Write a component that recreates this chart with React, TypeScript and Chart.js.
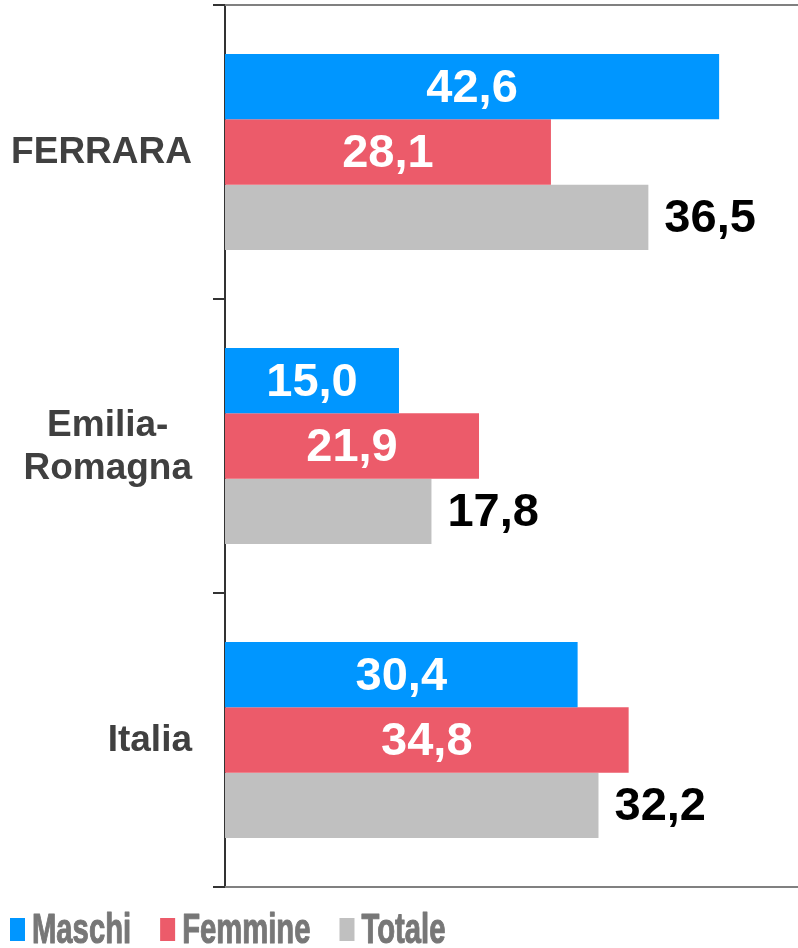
import React, { useEffect, useRef } from "react";
import { Chart, registerables } from "chart.js";

Chart.register(...registerables);

const categories: (string | string[])[] = ["FERRARA", ["Emilia-", "Romagna"], "Italia"];
const seriesNames = ["Maschi", "Femmine", "Totale"];
const maschi = [42.6, 15.0, 30.4];
const femmine = [28.1, 21.9, 34.8];
const totale = [36.5, 17.8, 32.2];
const colors = ["#0096FF", "#EC5B6A", "#C0C0C0"];
const xMax = 49.4;

const fmt = (v: number) => v.toFixed(1).replace(".", ",");

const overlay = {
  id: "overlay",
  afterDraw(chart: any) {
    const ctx = chart.ctx as CanvasRenderingContext2D;
    const area = chart.chartArea;
    ctx.save();
    ctx.strokeStyle = "#808080";
    ctx.lineWidth = 2;
    ctx.beginPath();
    ctx.moveTo(area.left, area.top);
    ctx.lineTo(area.right, area.top);
    ctx.moveTo(area.left, area.bottom);
    ctx.lineTo(area.right, area.bottom);
    ctx.stroke();

    // value labels
    ctx.font = "bold 47px 'Liberation Sans', Arial, sans-serif";
    ctx.textBaseline = "middle";
    chart.data.datasets.forEach((ds: any, di: number) => {
      const meta = chart.getDatasetMeta(di);
      meta.data.forEach((bar: any, i: number) => {
        const text = fmt(ds.data[i]);
        if (di < 2) {
          ctx.fillStyle = "#ffffff";
          ctx.textAlign = "center";
          ctx.fillText(text, (bar.base + bar.x) / 2, bar.y + 2);
        } else {
          ctx.fillStyle = "#000000";
          ctx.textAlign = "left";
          ctx.fillText(text, bar.x + 16, bar.y + 2);
        }
      });
    });

    // category labels
    const yScale = chart.scales.y;
    ctx.font = "bold 37px 'Liberation Sans', Arial, sans-serif";
    ctx.fillStyle = "#404040";
    ctx.textAlign = "center";
    categories.forEach((lab, i) => {
      const lines = Array.isArray(lab) ? lab : [lab];
      const w = Math.max(...lines.map((l) => ctx.measureText(l).width));
      const right = area.left - 33;
      const cx = right - w / 2;
      const lh = 43;
      const cy = yScale.getPixelForValue(i);
      lines.forEach((l, k) => ctx.fillText(l, cx, cy + 1 + (k - (lines.length - 1) / 2) * lh));
    });

    // legend (condensed bold text)
    const squeeze = 0.68;
    ctx.font = "bold 43px 'Liberation Sans', Arial, sans-serif";
    ctx.textAlign = "left";
    ctx.textBaseline = "alphabetic";
    let x = 10;
    const baseline = 943;
    seriesNames.forEach((name, i) => {
      ctx.fillStyle = colors[i];
      ctx.fillRect(x, 918, 15, 23);
      x += 15 + 7;
      const tw = ctx.measureText(name).width * squeeze;
      ctx.save();
      ctx.translate(x, baseline);
      ctx.scale(squeeze, 1);
      ctx.fillStyle = "#777777";
      ctx.strokeStyle = "#777777";
      ctx.lineWidth = 1.1;
      ctx.lineJoin = "round";
      ctx.strokeText(name, 0, 0);
      ctx.fillText(name, 0, 0);
      ctx.restore();
      x += tw + 29;
    });
    ctx.restore();
  },
};

export default function App() {
  const ref = useRef<HTMLCanvasElement | null>(null);
  useEffect(() => {
    if (!ref.current) return;
    const data = [maschi, femmine, totale];
    const chart = new Chart(ref.current, {
      type: "bar",
      data: {
        labels: categories.map((c) => (Array.isArray(c) ? c.join(" ") : c)),
        datasets: seriesNames.map((name, i) => ({
          label: name,
          data: data[i],
          backgroundColor: colors[i],
          borderWidth: 0,
          barPercentage: 1,
          categoryPercentage: 0.667,
        })),
      },
      options: {
        indexAxis: "y",
        animation: false,
        responsive: false,
        devicePixelRatio: 1,
        layout: { padding: { top: 5, bottom: 61, left: 0, right: 0 } },
        plugins: { legend: { display: false }, tooltip: { enabled: false } },
        scales: {
          x: { display: false, min: 0, max: xMax },
          y: {
            grid: { drawOnChartArea: false, tickLength: 12, color: "#333333", lineWidth: 2, offset: true },
            border: { color: "#333333", width: 2 },
            ticks: { display: false },
            afterFit: (s: any) => {
              s.width = 225;
            },
          },
        },
      },
      plugins: [overlay],
    } as any);
    return () => chart.destroy();
  }, []);

  return (
    <div style={{ position: "fixed", left: 0, top: 0, width: 798, height: 948, background: "#fff" }}>
      <canvas ref={ref} width={798} height={948} style={{ display: "block" }} />
    </div>
  );
}
